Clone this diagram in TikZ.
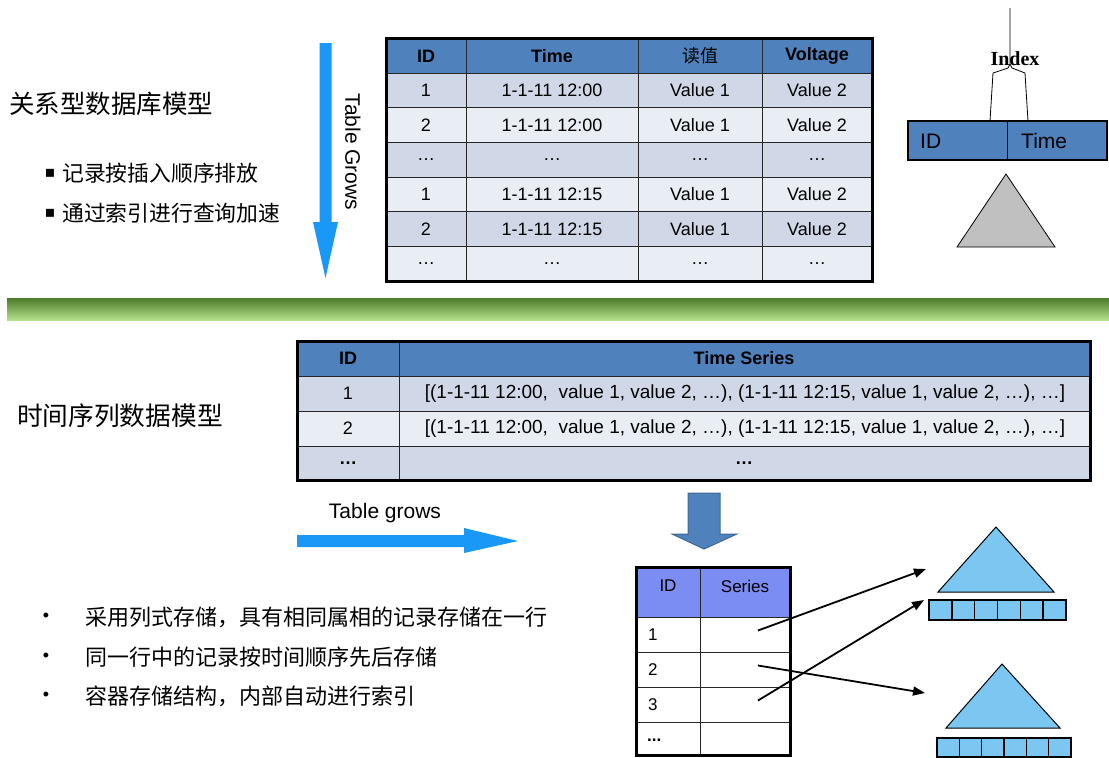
\documentclass[tikz,border=0pt]{standalone}
\usepackage{fontspec}
\setmainfont{Liberation Sans}
\newfontfamily\cjk{Noto Sans CJK SC}
\newfontfamily\idxfont{Liberation Serif}
\newfontfamily\symfont{DejaVu Sans}
\usepackage{tikz}
\usetikzlibrary{arrows.meta, positioning, calc}
\definecolor{head-blue}{HTML}{4F81BD}
\definecolor{row-dark}{HTML}{D0D8E8}
\definecolor{row-light}{HTML}{E9EDF4}
\definecolor{grow-blue}{HTML}{1A98F8}
\definecolor{tree-blue}{HTML}{7CC6F2}
\definecolor{tree-gray}{HTML}{C0C0C0}
\definecolor{series-head}{HTML}{7B8CF3}
\definecolor{bar-dark}{HTML}{4B7A2A}
\definecolor{bar-light}{HTML}{B5E08B}
\newcommand{\pxfont}[1]{\fontsize{#1}{#1}\selectfont}

\begin{document}
\begin{tikzpicture}[x=1pt, y=-1pt,
    celltext/.style={inner sep=0pt, font=\pxfont{18}},
    headtext/.style={inner sep=0pt, font=\pxfont{18}\bfseries},
    cjktext/.style={inner sep=0pt, anchor=west, font=\cjk\pxfont{#1}},
    link/.style={line width=1.8pt, -{Triangle[length=12pt, width=9pt]}}]
    \useasboundingbox (0,0) rectangle (1109,758);
    \fill[white] (0,0) rectangle (1109,758);

    % Relational model, left text
    \node[cjktext=25.5] (rel-title) at (9,104) {关系型数据库模型};
    \foreach \y/\t [count=\i] in {173/记录按插入顺序排放, 213/通过索引进行查询加速} {
        \node[inner sep=0pt, font=\symfont\pxfont{16}] (rel-dot-\i) at (50,\y) {▪};
        \node[cjktext=21.8] (rel-item-\i) at (62,\y) {\t};
    }

    % Table grows (down)
    \fill[grow-blue] (319.5,43) -- (331.5,43) -- (331.5,222) -- (338,222) -- (325.5,278) -- (313,222) -- (319.5,222) -- cycle;
    \node[rotate=-90, inner sep=0pt, font=\pxfont{21}] (grows-down) at (353,152) {Table Grows};

    % Relational table
    \fill[head-blue] (386,38) rectangle (872,73);
    \foreach \c [count=\r] in {row-dark,row-light,row-dark,row-light,row-dark,row-light}
        \fill[\c] (386,38.33+\r*34.67) rectangle (872,73+\r*34.67);
    \foreach \y in {73,107.67,142.33,177,211.67,246.33}
        \draw[line width=1pt, black!85] (386,\y) -- (872,\y);
    \foreach \x in {466,638,762}
        \draw[line width=1pt, black!85] (\x,38) -- (\x,281);
    \draw[line width=3pt] (386,38) rectangle (872,281);

    \foreach \x/\t [count=\j] in {426/ID, 552/Time, 817/Voltage}
        \node[headtext] (rel-head-\j) at (\x,56) {\t};
    \node[inner sep=0pt, font=\cjk\pxfont{18}] (rel-head-read) at (700,56) {读值};
    \foreach \id/\tm/\va/\vb [count=\r] in {1/1-1-11 12:00/Value 1/Value 2, 2/1-1-11 12:00/Value 1/Value 2, …/…/…/…, 1/1-1-11 12:15/Value 1/Value 2, 2/1-1-11 12:15/Value 1/Value 2, …/…/…/…} {
        \node[celltext] (rel-\r-id) at (426,55.67+\r*34.67) {\id};
        \node[celltext] (rel-\r-time) at (552,55.67+\r*34.67) {\tm};
        \node[celltext] (rel-\r-read) at (700,55.67+\r*34.67) {\va};
        \node[celltext] (rel-\r-volt) at (817,55.67+\r*34.67) {\vb};
    }

    % Index on ID and Time
    \node[inner sep=0pt, font=\idxfont\pxfont{20}\bfseries] (idx-label) at (1015,59) {Index};
    \draw[line width=0.8pt] (1010,8) -- (1010,64) -- (1008,68) -- (993,73) -- (990,121);
    \draw[line width=0.8pt] (1010,64) -- (1012,68) -- (1025,73) -- (1028,121);
    \draw[line width=2.5pt, fill=head-blue] (908,121) rectangle (1107,160);
    \draw[line width=1pt] (1007,121) -- (1007,160);
    \node[anchor=west, inner sep=0pt, font=\pxfont{21}] (idx-id) at (920,141) {ID};
    \node[anchor=west, inner sep=0pt, font=\pxfont{21}] (idx-time) at (1021,141) {Time};
    \draw[line width=0.8pt, fill=tree-gray] (1006,174) -- (1055,247) -- (957,247) -- cycle;

    % Separator bar
    \shade[top color=bar-dark, bottom color=bar-light] (7,298) rectangle (1109,320);

    % Time series model
    \node[cjktext=25.7] (ts-title) at (17,416) {时间序列数据模型};
    \fill[head-blue] (297,341) rectangle (1090,376);
    \foreach \c [count=\r] in {row-dark,row-light,row-dark}
        \fill[\c] (297,341+\r*35) rectangle (1090,376+\r*35);
    \foreach \y in {376,411,446}
        \draw[line width=1pt, black!85] (297,\y) -- (1090,\y);
    \draw[line width=1pt, black!85] (399,341) -- (399,480);
    \draw[line width=3pt] (297,341) rectangle (1090,480);

    \node[headtext] (ts-head-id) at (348,358.5) {ID};
    \node[headtext] (ts-head-series) at (744,358.5) {Time Series};
    \node[celltext] (ts-1-id) at (348,393.5) {1};
    \node[celltext, font=\pxfont{19}] (ts-1-series) at (745,393.5) {[(1-1-11 12:00,\ \ value 1, value 2, …), (1-1-11 12:15, value 1, value 2, …), …]};
    \node[celltext] (ts-2-id) at (348,428.5) {2};
    \node[celltext, font=\pxfont{19}] (ts-2-series) at (745,428.5) {[(1-1-11 12:00,\ \ value 1, value 2, …), (1-1-11 12:15, value 1, value 2, …), …]};
    \node[headtext] (ts-3-id) at (348,463.5) {…};
    \node[headtext] (ts-3-series) at (744,463.5) {…};

    % Table grows (right)
    \node[inner sep=0pt, font=\pxfont{21}] (grows-right) at (385,513) {Table grows};
    \fill[grow-blue] (297,535) -- (464,535) -- (464,528) -- (518,541) -- (464,553) -- (464,547) -- (297,547) -- cycle;

    % Time series model, bullets
    \foreach \y/\t [count=\i] in {617/采用列式存储，具有相同属相的记录存储在一行, 657/同一行中的记录按时间顺序先后存储, 696/容器存储结构，内部自动进行索引} {
        \node[inner sep=0pt, font=\pxfont{18}] (ts-dot-\i) at (46,\y) {•};
        \node[cjktext=22] (ts-item-\i) at (85,\y) {\t};
    }

    % Block arrow down
    \draw[line width=1pt, fill=head-blue, draw=head-blue!80!black] (688,493) -- (720,493) -- (720,534) -- (737,534) -- (704,549) -- (672,534) -- (688,534) -- cycle;

    % Series table
    \fill[series-head] (636,567) rectangle (790,617);
    \foreach \y in {617,652,687,722}
        \draw[line width=1pt, black!85] (636,\y) -- (790,\y);
    \draw[line width=1pt, black!85] (700,567) -- (700,755);
    \draw[line width=3pt] (636,567) rectangle (790,755);
    \node[celltext, font=\pxfont{17}] (ser-head-id) at (668,586) {ID};
    \node[celltext, font=\pxfont{17}] (ser-head-series) at (745,586) {Series};
    \foreach \y/\t [count=\i] in {634.5/1, 669.5/2, 704.5/3} {
        \node[celltext, anchor=west, font=\pxfont{17}] (ser-\i-id) at (648,\y) {\t};
        \coordinate (ser-\i-out) at (758,\y-4);
    }
    \node[celltext, anchor=west, font=\pxfont{17}\bfseries] (ser-4-id) at (647,740) {...};

    % Index trees
    \draw[line width=1pt, fill=tree-blue] (996,527) -- (1054,592) -- (938,592) -- cycle;
    \foreach \i in {0,...,5}
        \draw[line width=1.5pt, fill=tree-blue] (929+\i*22.83,600) rectangle ++(22.83,20);
    \draw[line width=1pt, fill=tree-blue] (1002,664) -- (1060,728) -- (946,728) -- cycle;
    \foreach \i in {0,...,5}
        \draw[line width=1.5pt, fill=tree-blue] (937+\i*22.33,738) rectangle ++(22.33,19);
    \coordinate (tree-1-top) at (926,569);
    \coordinate (tree-1-low) at (924,600);
    \coordinate (tree-2-top) at (925,693);

    % Series links
    \draw[link] (ser-1-out) -- (tree-1-top);
    \draw[link] (ser-2-out) -- (tree-2-top);
    \draw[link] (ser-3-out) -- (tree-1-low);
\end{tikzpicture}
\end{document}
